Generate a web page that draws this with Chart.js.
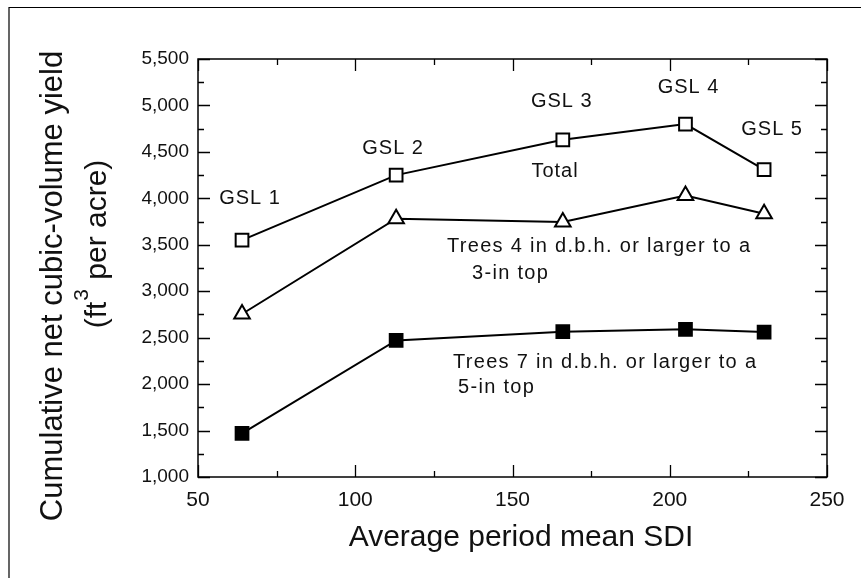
<!DOCTYPE html>
<html>
<head>
<meta charset="utf-8">
<script src="https://cdn.jsdelivr.net/npm/chart.js@4.4.1/dist/chart.umd.min.js"></script>
<style>
  html, body { margin: 0; padding: 0; background: #fff; }
  #wrap { width: 861px; height: 578px; }
</style>
</head>
<body>
<div id="wrap"><canvas id="yieldChart" width="861" height="578"></canvas></div>
<script>
// Chart data
const sdi = [64, 113, 166, 205, 230];
const totalYield = [3550, 4250, 4630, 4800, 4310];
const trees4Yield = [2755, 3780, 3745, 4030, 3835];
const trees7Yield = [1470, 2470, 2565, 2590, 2560];
const gslLabels = ['GSL 1', 'GSL 2', 'GSL 3', 'GSL 4', 'GSL 5'];
const xRange = [50, 250];
const yRange = [1000, 5500];

const FONT = '"Liberation Sans", Arial, Helvetica, sans-serif';

function points(ys) {
    return sdi.map((x, i) => ({ x: x, y: ys[i] }));
}

function withSpacing(ctx, spacing, fn) {
    ctx.save();
    if ('letterSpacing' in ctx) ctx.letterSpacing = spacing + 'px';
    fn();
    ctx.restore();
}

// Inward ticks, plot frame, outer frame, annotations and axis titles
const decorations = {
    id: 'decorations',
    afterDraw(chart) {
        const ctx = chart.ctx;
        const xs = chart.scales.x;
        const ys = chart.scales.y;
        const a = chart.chartArea;

        ctx.save();
        ctx.strokeStyle = '#000';

        // outer frame (only left/top edges visible)
        ctx.lineWidth = 1.2;
        ctx.beginPath();
        ctx.moveTo(9, 578);
        ctx.lineTo(9, 7.5);
        ctx.lineTo(861, 7.5);
        ctx.stroke();

        // plot box
        ctx.lineWidth = 1.5;
        ctx.strokeRect(a.left, a.top, a.right - a.left, a.bottom - a.top);

        // inward ticks
        ctx.lineWidth = 1.3;
        ctx.beginPath();
        for (let v = yRange[0]; v <= yRange[1]; v += 250) {
            const len = v % 500 === 0 ? 12 : 6;
            const py = Math.round(ys.getPixelForValue(v)) + 0.5;
            ctx.moveTo(a.left, py); ctx.lineTo(a.left + len, py);
            ctx.moveTo(a.right, py); ctx.lineTo(a.right - len, py);
        }
        for (let v = xRange[0]; v <= xRange[1]; v += 25) {
            const len = v % 50 === 0 ? 12 : 6;
            const px = Math.round(xs.getPixelForValue(v)) + 0.5;
            ctx.moveTo(px, a.bottom); ctx.lineTo(px, a.bottom - len);
            ctx.moveTo(px, a.top); ctx.lineTo(px, a.top + len);
        }
        ctx.stroke();

        ctx.fillStyle = '#111';
        ctx.textBaseline = 'middle';

        // GSL labels, placed relative to the Total markers
        const gslOffsets = [[8, -42], [-3, -27], [-1, -38], [3, -37], [8, -40]];
        ctx.font = '20px ' + FONT;
        ctx.textAlign = 'center';
        gslLabels.forEach((lab, i) => {
            const px = xs.getPixelForValue(sdi[i]) + gslOffsets[i][0];
            const py = ys.getPixelForValue(totalYield[i]) + gslOffsets[i][1];
            withSpacing(ctx, 1, () => ctx.fillText(lab, px, py));
        });

        // series notes
        withSpacing(ctx, 1, () => ctx.fillText('Total', 555, 171));
        ctx.textAlign = 'left';
        withSpacing(ctx, 1.3, () => {
            ctx.fillText('Trees 4 in d.b.h. or larger to a', 447, 246);
            ctx.fillText('3-in top', 472, 273);
            ctx.fillText('Trees 7 in d.b.h. or larger to a', 453, 362);
            ctx.fillText('5-in top', 458, 387);
        });

        // x axis title
        ctx.textAlign = 'center';
        ctx.textBaseline = 'alphabetic';
        ctx.font = '30px ' + FONT;
        ctx.fillText('Average period mean SDI', 521, 546);

        // y axis title (two rotated lines, superscript 3)
        ctx.save();
        ctx.translate(62, 286);
        ctx.rotate(-Math.PI / 2);
        ctx.font = '31px ' + FONT;
        ctx.fillText('Cumulative net cubic-volume yield', 0, 0);
        ctx.restore();

        ctx.save();
        ctx.translate(106, 245);
        ctx.rotate(-Math.PI / 2);
        ctx.textAlign = 'left';
        const p1 = '(ft', p2 = ' per acre)';
        ctx.font = '30px ' + FONT;
        const w1 = ctx.measureText(p1).width;
        const w2 = ctx.measureText(p2).width;
        ctx.font = '21px ' + FONT;
        const w3 = ctx.measureText('3').width;
        let sx = -(w1 + w3 + w2) / 2;
        ctx.font = '30px ' + FONT;
        ctx.fillText(p1, sx, 0);
        sx += w1;
        ctx.font = '21px ' + FONT;
        ctx.fillText('3', sx + 1, -18);
        sx += w3 + 2;
        ctx.font = '30px ' + FONT;
        ctx.fillText(p2, sx, 0);
        ctx.restore();

        ctx.restore();
    }
};

const lineStyle = {
    showLine: true,
    borderColor: '#000',
    borderWidth: 2,
    pointRadius: 9,
    pointHoverRadius: 9,
    pointBorderWidth: 2,
    pointBorderColor: '#000'
};

new Chart(document.getElementById('yieldChart'), {
    type: 'scatter',
    data: {
        datasets: [
            Object.assign({ label: 'Total', data: points(totalYield),
                pointStyle: 'rect', pointBackgroundColor: '#fff' }, lineStyle),
            Object.assign({ label: 'Trees 4 in', data: points(trees4Yield),
                pointStyle: 'triangle', pointBackgroundColor: '#fff' }, lineStyle),
            Object.assign({ label: 'Trees 7 in', data: points(trees7Yield),
                pointStyle: 'rect', pointBackgroundColor: '#000' }, lineStyle)
        ]
    },
    options: {
        responsive: false,
        animation: false,
        layout: { padding: { left: 0, top: 59, right: 34, bottom: 0 } },
        plugins: {
            legend: { display: false },
            tooltip: { enabled: false }
        },
        scales: {
            x: {
                type: 'linear',
                min: xRange[0],
                max: xRange[1],
                grid: { display: false, drawTicks: false },
                border: { display: false },
                ticks: {
                    stepSize: 50,
                    padding: 11,
                    color: '#111',
                    font: { family: FONT, size: 21 }
                },
                afterFit: function(scale) { scale.height = 101; }
            },
            y: {
                type: 'linear',
                min: yRange[0],
                max: yRange[1],
                grid: { display: false, drawTicks: false },
                border: { display: false },
                ticks: {
                    stepSize: 500,
                    padding: 9,
                    color: '#111',
                    font: { family: FONT, size: 19 },
                    callback: function(v) { return v.toLocaleString('en-US'); }
                },
                afterFit: function(scale) { scale.width = 198; }
            }
        }
    },
    plugins: [decorations]
});
</script>
</body>
</html>
